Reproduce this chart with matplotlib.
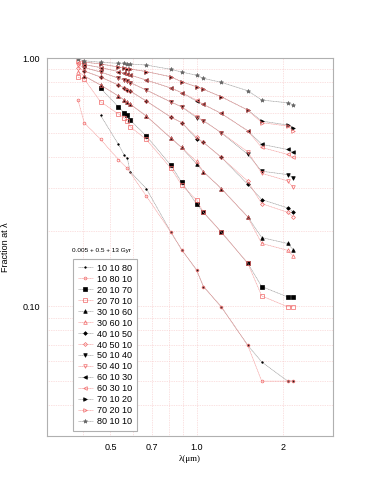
import numpy as np
import matplotlib
matplotlib.use('Agg')
import matplotlib.pyplot as plt
from matplotlib.ticker import FixedLocator, NullFormatter, FixedFormatter

plt.rcParams['font.family'] = ['Liberation Sans', 'DejaVu Sans']

nan = np.nan
# wavelengths (micron) of the sampled bands
lam = [0.385, 0.405, 0.462, 0.533, 0.559, 0.573, 0.586, 0.667, 0.813, 0.887,
       1.0, 1.057, 1.22, 1.51, 1.69, 2.08, 2.18]

labels = ['10 10 80', '10 80 10', '20 10 70', '20 70 10', '30 10 60', '30 60 10',
          '40 10 50', '40 50 10', '50 10 40', '50 40 10', '60 10 30', '60 30 10',
          '70 10 20', '70 20 10', '80 10 10']

f_10_10_80 = [nan, nan, 0.587, 0.449, 0.406, 0.394, 0.348, 0.298, 0.199, 0.169,
              0.140, 0.120, 0.0995, 0.0696, 0.0596, 0.050, 0.050]
f_10_80_10 = [0.677, 0.548, 0.470, 0.390, nan, 0.359, nan, 0.278, 0.199, 0.169,
              0.140, 0.120, 0.0995, 0.0696, 0.0499, 0.0499, 0.0499]
f_20_10_70 = [nan, nan, 0.755, 0.636, 0.600, 0.589, 0.562, 0.485, 0.370, 0.316,
              0.258, 0.239, 0.199, 0.149, 0.120, 0.109, 0.109]
f_20_70_10 = [0.836, 0.821, 0.666, 0.595, 0.573, 0.557, 0.528, 0.470, 0.360, 0.308,
              0.268, 0.239, 0.199, 0.149, 0.110, 0.0995, 0.0995]
f_30_10_60 = [nan, 0.846, 0.778, 0.703, 0.677, 0.664, 0.652, 0.584, 0.476, 0.436,
              0.374, 0.348, 0.298, 0.229, 0.189, 0.179, 0.169]
f_30_60_10 = [0.881, 0.846, 0.778, 0.703, 0.677, 0.664, 0.652, 0.584, 0.476, 0.436,
              0.383, 0.348, 0.298, 0.229, 0.179, 0.168, 0.159]
f_40_10_50 = [nan, 0.886, 0.838, 0.778, 0.757, 0.746, 0.736, 0.671, 0.578, 0.549,
              0.473, 0.457, 0.398, 0.310, 0.269, 0.249, 0.240]
f_40_50_10 = [0.914, 0.886, 0.838, 0.778, 0.757, 0.746, 0.736, 0.671, 0.578, 0.549,
              0.480, 0.457, 0.398, 0.319, 0.259, 0.239, 0.229]
f_50_10_40 = [nan, 0.915, 0.878, 0.830, 0.815, 0.808, 0.796, 0.743, 0.665, 0.636,
              0.575, 0.559, 0.500, 0.409, 0.350, 0.339, 0.330]
f_50_40_10 = [0.937, 0.915, 0.878, 0.830, 0.815, 0.808, 0.796, 0.743, 0.665, 0.636,
              0.581, 0.559, 0.500, 0.419, 0.343, 0.320, 0.301]
f_60_10_30 = [nan, 0.941, 0.915, 0.882, 0.870, 0.862, 0.854, 0.815, 0.757, 0.725,
              0.670, 0.650, 0.598, 0.509, 0.449, 0.428, 0.418]
f_60_30_10 = [0.957, 0.941, 0.915, 0.882, 0.870, 0.862, 0.854, 0.815, 0.757, 0.725,
              0.677, 0.650, 0.598, 0.509, 0.436, 0.409, 0.398]
f_70_10_20 = [nan, 0.963, 0.946, 0.920, 0.911, 0.907, 0.903, 0.882, 0.840, 0.802,
              0.766, 0.748, 0.698, 0.617, 0.557, 0.537, 0.522]
f_70_20_10 = [0.975, 0.963, 0.946, 0.920, 0.911, 0.907, 0.903, 0.882, 0.840, 0.802,
              0.766, 0.748, 0.698, 0.617, 0.549, 0.532, 0.509]
f_80_10_10 = [0.988, 0.975, 0.961, 0.952, 0.952, 0.950, 0.946, 0.937, 0.900, 0.878,
              0.852, 0.828, 0.798, 0.738, 0.677, 0.660, 0.648]

series = [f_10_10_80, f_10_80_10, f_20_10_70, f_20_70_10, f_30_10_60, f_30_60_10,
          f_40_10_50, f_40_50_10, f_50_10_40, f_50_40_10, f_60_10_30, f_60_30_10,
          f_70_10_20, f_70_20_10, f_80_10_10]
markers = ['.', 'o', 's', 's', '^', '^', 'D', 'D', 'v', 'v', '<', '<', '>', '>', '*']
msizes = [2.2, 2.0, 2.4, 2.4, 2.6, 2.6, 1.9, 2.0, 2.6, 2.6, 2.6, 2.6, 2.6, 2.6, 3.0]

red = '#f06666'
fig = plt.figure(figsize=(3.83, 4.95), dpi=100)
ax = fig.add_axes([47/383, 1-436/495, 286/383, 378/495])

lam = np.array(lam)
for i, (f, lab) in enumerate(zip(series, labels)):
    f = np.array(f)
    ok = ~np.isnan(f)
    if i == 14:
        col, lcol, mfc = '#666666', '#999999', '#666666'
    elif i % 2 == 0:
        col, lcol, mfc = 'black', '#999999', 'black'
    else:
        col, lcol, mfc = red, '#f49a9a', 'none'
    ax.plot(lam[ok], f[ok], color=lcol, lw=0.45, ls=(0, (2, 0.6)),
            marker=markers[i], ms=msizes[i], mec=col, mfc=mfc, mew=0.5, label=lab)

ax.set_xscale('log')
ax.set_yscale('log')
ax.set_xlim(0.3, 3.0)
ax.set_ylim(0.03, 1.0)

ax.xaxis.set_major_locator(FixedLocator([0.5, 0.7, 1.0, 2.0]))
ax.xaxis.set_major_formatter(FixedFormatter(['0.5', '0.7', '1.0', '2']))
ax.xaxis.set_minor_locator(FixedLocator([0.3, 0.4, 0.6, 0.8, 0.9, 3.0]))
ax.xaxis.set_minor_formatter(NullFormatter())
ax.yaxis.set_major_locator(FixedLocator([0.1, 1.0]))
ax.yaxis.set_major_formatter(FixedFormatter(['0.10', '1.00']))
ax.yaxis.set_minor_locator(FixedLocator([0.03, 0.04, 0.05, 0.06, 0.07, 0.08, 0.09,
                                         0.2, 0.3, 0.4, 0.5, 0.6, 0.7, 0.8, 0.9]))
ax.yaxis.set_minor_formatter(NullFormatter())
ax.tick_params(which='both', length=0, labelsize=6.5, pad=5)
ax.grid(True, which='both', color='#f6c4c4', lw=0.5, ls=(0, (1, 1.5)))
for s in ax.spines.values():
    s.set_color('#b0b0b0')
    s.set_linewidth(0.8)

ax.set_xlabel('λ(μm)', family=['Liberation Serif', 'DejaVu Serif'], fontsize=6.5, labelpad=2)
ax.set_ylabel('Fraction at λ', fontsize=6.5, labelpad=9)

ax.text(0.087, 0.491, '0.005 + 0.5 + 13 Gyr', transform=ax.transAxes, fontsize=4.6,
        ha='left', va='center')
leg = ax.legend(loc='upper left', bbox_to_anchor=(0.091, 0.468), borderaxespad=0,
                fontsize=6.5, handlelength=1.7, handletextpad=0.45, labelspacing=0.22,
                fancybox=False, framealpha=1, edgecolor='#b0b0b0', borderpad=0.5)
leg.get_frame().set_linewidth(0.8)

fig.savefig('out.png', dpi=100)
